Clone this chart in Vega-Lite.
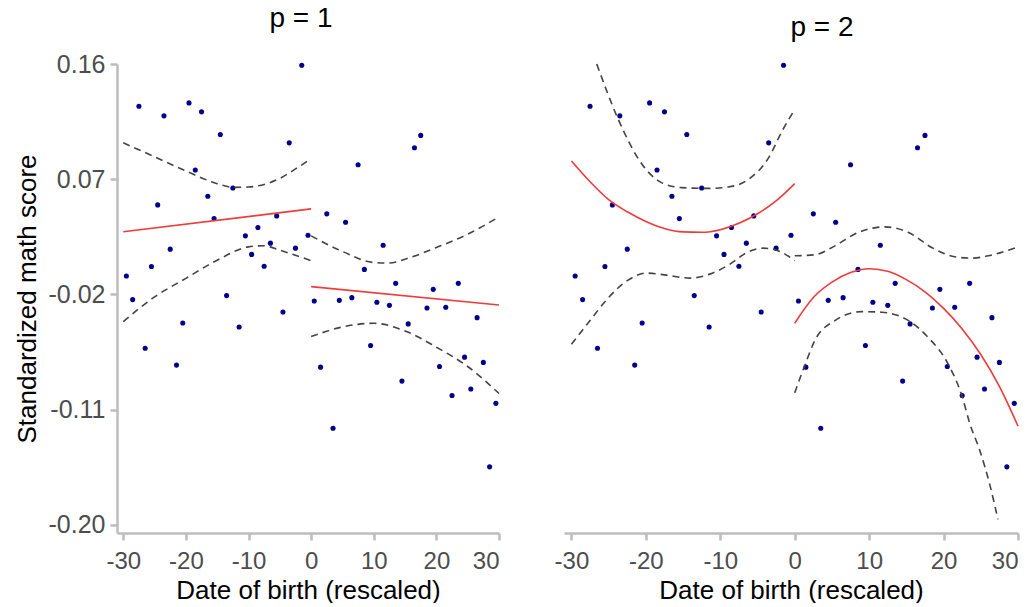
{
  "$schema": "https://vega.github.io/schema/vega-lite/v6.json",
  "padding": {"left": 14, "top": 5, "right": 0, "bottom": 0},
  "background": "white",
  "datasets": {
    "pts": [
      {"x": -29.5, "y": -0.0057}, {"x": -28.5, "y": -0.0241}, {"x": -27.5, "y": 0.127}, {"x": -26.5, "y": -0.0621},
      {"x": -25.5, "y": 0.0018}, {"x": -24.5, "y": 0.0499}, {"x": -23.5, "y": 0.1195}, {"x": -22.5, "y": 0.0153},
      {"x": -21.5, "y": -0.0753}, {"x": -20.5, "y": -0.0424}, {"x": -19.5, "y": 0.1296}, {"x": -18.5, "y": 0.0772},
      {"x": -17.5, "y": 0.1226}, {"x": -16.5, "y": 0.0566}, {"x": -15.5, "y": 0.0392}, {"x": -14.5, "y": 0.1049},
      {"x": -13.5, "y": -0.021}, {"x": -12.5, "y": 0.0631}, {"x": -11.5, "y": -0.0455}, {"x": -10.5, "y": 0.0257},
      {"x": -9.5, "y": 0.0112}, {"x": -8.5, "y": 0.0322}, {"x": -7.5, "y": 0.002}, {"x": -6.5, "y": 0.02},
      {"x": -5.5, "y": 0.0413}, {"x": -4.5, "y": -0.0338}, {"x": -3.5, "y": 0.0984}, {"x": -2.5, "y": 0.0161},
      {"x": -1.5, "y": 0.159}, {"x": -0.5, "y": 0.0262},
      {"x": 0.5, "y": -0.0252}, {"x": 1.5, "y": -0.0769}, {"x": 2.5, "y": 0.0429}, {"x": 3.5, "y": -0.1247},
      {"x": 4.5, "y": -0.0247}, {"x": 5.5, "y": 0.0363}, {"x": 6.5, "y": -0.0226}, {"x": 7.5, "y": 0.0813},
      {"x": 8.5, "y": -0.0005}, {"x": 9.5, "y": -0.06}, {"x": 10.5, "y": -0.0262}, {"x": 11.5, "y": 0.0184},
      {"x": 12.5, "y": -0.0286}, {"x": 13.5, "y": -0.0114}, {"x": 14.5, "y": -0.0878}, {"x": 15.5, "y": -0.0431},
      {"x": 16.5, "y": 0.0945}, {"x": 17.5, "y": 0.1042}, {"x": 18.5, "y": -0.0307}, {"x": 19.5, "y": -0.0161},
      {"x": 20.5, "y": -0.0764}, {"x": 21.5, "y": -0.0301}, {"x": 22.5, "y": -0.099}, {"x": 23.5, "y": -0.0114},
      {"x": 24.5, "y": -0.0691}, {"x": 25.5, "y": -0.094}, {"x": 26.5, "y": -0.0382}, {"x": 27.5, "y": -0.0732},
      {"x": 28.5, "y": -0.1548}, {"x": 29.5, "y": -0.1052}
    ],
    "curves": [
      {"p": 1, "k": "fit", "s": "fL", "x": -30, "y": 0.0289}, {"p": 1, "k": "fit", "s": "fL", "x": 0, "y": 0.0468},
      {"p": 1, "k": "fit", "s": "fR", "x": 0, "y": -0.014}, {"p": 1, "k": "fit", "s": "fR", "x": 30, "y": -0.0283},
      {"p": 1, "k": "band", "s": "uL", "x": -30, "y": 0.0984}, {"p": 1, "k": "band", "s": "uL", "x": -25, "y": 0.0875},
      {"p": 1, "k": "band", "s": "uL", "x": -20, "y": 0.0764}, {"p": 1, "k": "band", "s": "uL", "x": -15, "y": 0.0665},
      {"p": 1, "k": "band", "s": "uL", "x": -12.5, "y": 0.0636}, {"p": 1, "k": "band", "s": "uL", "x": -10, "y": 0.0639},
      {"p": 1, "k": "band", "s": "uL", "x": -5, "y": 0.0706}, {"p": 1, "k": "band", "s": "uL", "x": -2.5, "y": 0.078},
      {"p": 1, "k": "band", "s": "uL", "x": 0, "y": 0.086},
      {"p": 1, "k": "band", "s": "lL", "x": -30, "y": -0.0413}, {"p": 1, "k": "band", "s": "lL", "x": -25, "y": -0.022},
      {"p": 1, "k": "band", "s": "lL", "x": -20, "y": -0.0075}, {"p": 1, "k": "band", "s": "lL", "x": -15, "y": 0.0067},
      {"p": 1, "k": "band", "s": "lL", "x": -10, "y": 0.0171}, {"p": 1, "k": "band", "s": "lL", "x": -7.5, "y": 0.018},
      {"p": 1, "k": "band", "s": "lL", "x": -5, "y": 0.0145}, {"p": 1, "k": "band", "s": "lL", "x": 0, "y": 0.0063},
      {"p": 1, "k": "band", "s": "uR", "x": 0, "y": 0.0257}, {"p": 1, "k": "band", "s": "uR", "x": 5, "y": 0.0135},
      {"p": 1, "k": "band", "s": "uR", "x": 10, "y": 0.0049}, {"p": 1, "k": "band", "s": "uR", "x": 12.5, "y": 0.0045},
      {"p": 1, "k": "band", "s": "uR", "x": 15, "y": 0.0075}, {"p": 1, "k": "band", "s": "uR", "x": 20, "y": 0.0166},
      {"p": 1, "k": "band", "s": "uR", "x": 25, "y": 0.027}, {"p": 1, "k": "band", "s": "uR", "x": 30, "y": 0.0405},
      {"p": 1, "k": "band", "s": "lR", "x": 0, "y": -0.053}, {"p": 1, "k": "band", "s": "lR", "x": 5, "y": -0.0455},
      {"p": 1, "k": "band", "s": "lR", "x": 10, "y": -0.0426}, {"p": 1, "k": "band", "s": "lR", "x": 15, "y": -0.0486},
      {"p": 1, "k": "band", "s": "lR", "x": 20, "y": -0.0613}, {"p": 1, "k": "band", "s": "lR", "x": 25, "y": -0.0764},
      {"p": 1, "k": "band", "s": "lR", "x": 30, "y": -0.0975},

      {"p": 2, "k": "fit", "s": "fL", "x": -30, "y": 0.0842}, {"p": 2, "k": "fit", "s": "fL", "x": -27.5, "y": 0.068},
      {"p": 2, "k": "fit", "s": "fL", "x": -25, "y": 0.054}, {"p": 2, "k": "fit", "s": "fL", "x": -22.5, "y": 0.0445},
      {"p": 2, "k": "fit", "s": "fL", "x": -20, "y": 0.037}, {"p": 2, "k": "fit", "s": "fL", "x": -17.5, "y": 0.0315},
      {"p": 2, "k": "fit", "s": "fL", "x": -15, "y": 0.0288}, {"p": 2, "k": "fit", "s": "fL", "x": -12.5, "y": 0.0285},
      {"p": 2, "k": "fit", "s": "fL", "x": -10, "y": 0.0305}, {"p": 2, "k": "fit", "s": "fL", "x": -7.5, "y": 0.0355},
      {"p": 2, "k": "fit", "s": "fL", "x": -5, "y": 0.043}, {"p": 2, "k": "fit", "s": "fL", "x": -2.5, "y": 0.053},
      {"p": 2, "k": "fit", "s": "fL", "x": 0, "y": 0.0665},
      {"p": 2, "k": "fit", "s": "fR", "x": 0, "y": -0.0426}, {"p": 2, "k": "fit", "s": "fR", "x": 2.5, "y": -0.0225},
      {"p": 2, "k": "fit", "s": "fR", "x": 5, "y": -0.0105}, {"p": 2, "k": "fit", "s": "fR", "x": 7.5, "y": -0.003},
      {"p": 2, "k": "fit", "s": "fR", "x": 10, "y": 0.0}, {"p": 2, "k": "fit", "s": "fR", "x": 12.5, "y": -0.002},
      {"p": 2, "k": "fit", "s": "fR", "x": 15, "y": -0.0085}, {"p": 2, "k": "fit", "s": "fR", "x": 17.5, "y": -0.018},
      {"p": 2, "k": "fit", "s": "fR", "x": 20, "y": -0.031}, {"p": 2, "k": "fit", "s": "fR", "x": 22.5, "y": -0.047},
      {"p": 2, "k": "fit", "s": "fR", "x": 25, "y": -0.067}, {"p": 2, "k": "fit", "s": "fR", "x": 27.5, "y": -0.092},
      {"p": 2, "k": "fit", "s": "fR", "x": 30, "y": -0.123},
      {"p": 2, "k": "band", "s": "uL", "x": -26.6, "y": 0.16}, {"p": 2, "k": "band", "s": "uL", "x": -23.7, "y": 0.1166},
      {"p": 2, "k": "band", "s": "uL", "x": -20.5, "y": 0.0815}, {"p": 2, "k": "band", "s": "uL", "x": -17.9, "y": 0.0673},
      {"p": 2, "k": "band", "s": "uL", "x": -15.2, "y": 0.0634}, {"p": 2, "k": "band", "s": "uL", "x": -11.6, "y": 0.0628},
      {"p": 2, "k": "band", "s": "uL", "x": -8.9, "y": 0.0639}, {"p": 2, "k": "band", "s": "uL", "x": -6.2, "y": 0.0699},
      {"p": 2, "k": "band", "s": "uL", "x": -3.5, "y": 0.0868}, {"p": 2, "k": "band", "s": "uL", "x": -1.7, "y": 0.1076},
      {"p": 2, "k": "band", "s": "uL", "x": 0, "y": 0.1244},
      {"p": 2, "k": "band", "s": "lL", "x": -30, "y": -0.059}, {"p": 2, "k": "band", "s": "lL", "x": -27.5, "y": -0.0405},
      {"p": 2, "k": "band", "s": "lL", "x": -25.2, "y": -0.0237}, {"p": 2, "k": "band", "s": "lL", "x": -22.5, "y": -0.0093},
      {"p": 2, "k": "band", "s": "lL", "x": -19.9, "y": -0.0034}, {"p": 2, "k": "band", "s": "lL", "x": -17.2, "y": -0.005},
      {"p": 2, "k": "band", "s": "lL", "x": -14.1, "y": -0.0073}, {"p": 2, "k": "band", "s": "lL", "x": -11.4, "y": -0.0042},
      {"p": 2, "k": "band", "s": "lL", "x": -8.7, "y": 0.0036}, {"p": 2, "k": "band", "s": "lL", "x": -6.4, "y": 0.0127},
      {"p": 2, "k": "band", "s": "lL", "x": -4.2, "y": 0.0161}, {"p": 2, "k": "band", "s": "lL", "x": -2, "y": 0.0135},
      {"p": 2, "k": "band", "s": "lL", "x": 0, "y": 0.0063},
      {"p": 2, "k": "band", "s": "uR", "x": 0, "y": 0.0101}, {"p": 2, "k": "band", "s": "uR", "x": 2.7, "y": 0.0109},
      {"p": 2, "k": "band", "s": "uR", "x": 5.4, "y": 0.0179}, {"p": 2, "k": "band", "s": "uR", "x": 8.5, "y": 0.0283},
      {"p": 2, "k": "band", "s": "uR", "x": 12.1, "y": 0.0327}, {"p": 2, "k": "band", "s": "uR", "x": 15.3, "y": 0.0283},
      {"p": 2, "k": "band", "s": "uR", "x": 18.4, "y": 0.0166}, {"p": 2, "k": "band", "s": "uR", "x": 21.5, "y": 0.0094},
      {"p": 2, "k": "band", "s": "uR", "x": 23.8, "y": 0.0083}, {"p": 2, "k": "band", "s": "uR", "x": 26, "y": 0.0101},
      {"p": 2, "k": "band", "s": "uR", "x": 29.1, "y": 0.0153}, {"p": 2, "k": "band", "s": "uR", "x": 30, "y": 0.017},
      {"p": 2, "k": "band", "s": "lR", "x": 0, "y": -0.097}, {"p": 2, "k": "band", "s": "lR", "x": 1.6, "y": -0.0717},
      {"p": 2, "k": "band", "s": "lR", "x": 2.7, "y": -0.0561}, {"p": 2, "k": "band", "s": "lR", "x": 5.4, "y": -0.0405},
      {"p": 2, "k": "band", "s": "lR", "x": 9, "y": -0.0335}, {"p": 2, "k": "band", "s": "lR", "x": 11.7, "y": -0.034},
      {"p": 2, "k": "band", "s": "lR", "x": 15.3, "y": -0.0405}, {"p": 2, "k": "band", "s": "lR", "x": 17.9, "y": -0.0535},
      {"p": 2, "k": "band", "s": "lR", "x": 20.6, "y": -0.0743}, {"p": 2, "k": "band", "s": "lR", "x": 22.5, "y": -0.1},
      {"p": 2, "k": "band", "s": "lR", "x": 23.5, "y": -0.1205}, {"p": 2, "k": "band", "s": "lR", "x": 24.9, "y": -0.1426},
      {"p": 2, "k": "band", "s": "lR", "x": 26.2, "y": -0.1685}, {"p": 2, "k": "band", "s": "lR", "x": 27.3, "y": -0.1958}
    ]
  },
  "hconcat": [
    {
      "width": 382,
      "height": 469,
      "title": {"text": "p = 1", "dx": -7},
      "encoding": {
        "x": {"field": "x", "type": "quantitative", "scale": {"domain": [-31, 30], "nice": false, "zero": false},
              "axis": {"values": [-30, -20, -10, 0, 10, 20, 30], "title": "Date of birth (rescaled)", "labelPadding": 9, "titlePadding": 4,
                       "labelExpr": "datum.value < 0 ? '-' + abs(datum.value) : '' + datum.value"}},
        "y": {"field": "y", "type": "quantitative", "scale": {"domain": [-0.2065, 0.16], "nice": false, "zero": false},
              "axis": {"values": [-0.2, -0.11, -0.02, 0.07, 0.16], "title": "Standardized math score", "labelPadding": 5, "titlePadding": 8, "labelFontSize": 25,
                       "labelExpr": "datum.value < 0 ? '-' + format(abs(datum.value), '.2f') : format(datum.value, '.2f')"}}
      },
      "layer": [
        {
          "data": {"values": [{"x": 0}]},
          "mark": {"type": "rule", "color": "#333333", "strokeWidth": 1.6, "strokeDash": [8, 4]},
          "encoding": {"y": {"datum": 0.16}, "y2": {"datum": -0.2065}}
        },
        {
          "data": {"name": "pts"},
          "mark": {"type": "circle", "size": 26, "color": "#00008b", "opacity": 1}
        },
        {
          "data": {"name": "curves"},
          "transform": [{"filter": "datum.p == 1 && datum.k == 'band'"}],
          "mark": {"type": "line", "color": "#444444", "strokeWidth": 1.6, "strokeDash": [7, 5], "interpolate": "monotone"},
          "encoding": {"detail": {"field": "s"}}
        },
        {
          "data": {"name": "curves"},
          "transform": [{"filter": "datum.p == 1 && datum.k == 'fit'"}],
          "mark": {"type": "line", "color": "#f23a3a", "strokeWidth": 1.6, "interpolate": "monotone"},
          "encoding": {"detail": {"field": "s"}}
        }
      ]
    },
    {
      "width": 454,
      "height": 469,
      "title": {"text": "p = 2", "dx": 31},
      "encoding": {
        "x": {"field": "x", "type": "quantitative", "scale": {"domain": [-31, 30], "nice": false, "zero": false},
              "axis": {"values": [-30, -20, -10, 0, 10, 20, 30], "title": "Date of birth (rescaled)", "labelPadding": 9, "titlePadding": 4,
                       "labelExpr": "datum.value < 0 ? '-' + abs(datum.value) : '' + datum.value"}},
        "y": {"field": "y", "type": "quantitative", "scale": {"domain": [-0.2065, 0.16], "nice": false, "zero": false},
              "axis": null}
      },
      "layer": [
        {
          "data": {"values": [{"x": 0}]},
          "mark": {"type": "rule", "color": "#333333", "strokeWidth": 1.6, "strokeDash": [8, 4]},
          "encoding": {"y": {"datum": 0.16}, "y2": {"datum": -0.2065}}
        },
        {
          "data": {"name": "pts"},
          "mark": {"type": "circle", "size": 26, "color": "#00008b", "opacity": 1}
        },
        {
          "data": {"name": "curves"},
          "transform": [{"filter": "datum.p == 2 && datum.k == 'band'"}],
          "mark": {"type": "line", "color": "#444444", "strokeWidth": 1.6, "strokeDash": [7, 5], "interpolate": "monotone"},
          "encoding": {"detail": {"field": "s"}}
        },
        {
          "data": {"name": "curves"},
          "transform": [{"filter": "datum.p == 2 && datum.k == 'fit'"}],
          "mark": {"type": "line", "color": "#f23a3a", "strokeWidth": 1.6, "interpolate": "monotone"},
          "encoding": {"detail": {"field": "s"}}
        }
      ]
    }
  ],
  "spacing": 65,
  "bounds": "flush",
  "resolve": {"scale": {"x": "independent", "y": "independent"}},
  "config": {
    "view": {"stroke": null},
    "font": "Liberation Sans",
    "axis": {
      "grid": false,
      "domainColor": "#bdbdbd", "domainWidth": 2.5,
      "tickColor": "#bdbdbd", "tickWidth": 2.5, "tickSize": 7,
      "labelColor": "#4d4d4d", "labelFontSize": 24, "labelFont": "Liberation Sans", "labelPadding": 5,
      "titleFont": "Liberation Sans", "titleFontSize": 26, "titleFontWeight": "normal", "titleColor": "#000000",
      "titlePadding": 6
    },
    "title": {"fontSize": 28, "fontWeight": "normal", "font": "Liberation Sans", "color": "#000000", "offset": 19, "anchor": "middle"}
  }
}
